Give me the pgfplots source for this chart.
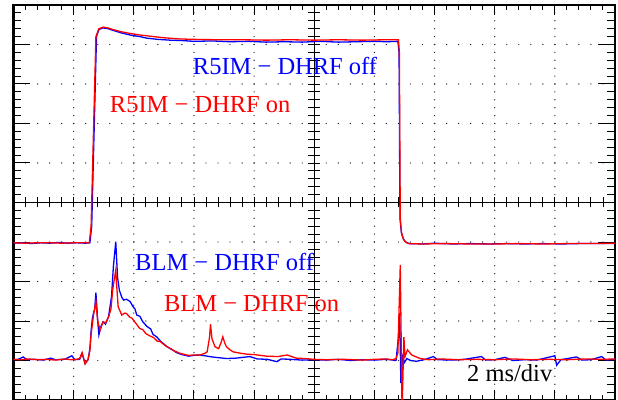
\documentclass[border=0pt]{standalone}
\usepackage{pgfplots}
\pgfplotsset{compat=1.18}
\usepackage{fontspec}
\setmainfont{Liberation Serif}
\definecolor{tblue}{RGB}{0,0,255}
\definecolor{tred}{RGB}{255,0,0}
\pgfplotsset{
  base/.style={scale only axis, width=601.5pt, height=395pt, at={(0,0)}, anchor=south west,
    xticklabels={}, yticklabels={}},
}
\begin{document}
\begin{tikzpicture}
% dotted grid
\begin{axis}[base, xmin=0,xmax=10,ymin=0,ymax=10,
  axis line style={draw=none},
  xtick={1,2,3,4,6,7,8,9}, ytick={1,2,3,4,6,7,8,9},
  major tick length=0pt, tick style={draw=none},
  grid=major,
  major x grid style={black!85, line width=1.4pt, line cap=round, dash pattern=on 0pt off 7.9pt},
  major y grid style={black!85, line width=1.4pt, line cap=round, dash pattern=on 0pt off 12.03pt},
]
\end{axis}
% centre cross: ticks on the vertical centre line
\begin{axis}[base, xmin=-5,xmax=5,ymin=-5,ymax=5,
  axis lines=middle, axis line style={-, line width=1.1pt},
  inner axis line style={-},
  xtick=\empty, ytick={-5,...,5}, minor y tick num=4,
  tick align=center, major tick length=12pt, minor tick length=12pt,
  tick style={black, line width=0.9pt},
]
\end{axis}
% centre cross: ticks on the horizontal centre line
\begin{axis}[base, xmin=-5,xmax=5,ymin=-5,ymax=5,
  axis lines=middle, axis line style={-, line width=1.1pt},
  inner axis line style={-},
  ytick=\empty, xtick={-5,...,5}, minor x tick num=4,
  tick align=center, major tick length=10pt, minor tick length=10pt,
  tick style={black, line width=0.9pt},
]
\end{axis}
% x ticks on borders
\begin{axis}[base, xmin=0,xmax=10,ymin=0,ymax=10,
  axis line style={line width=2pt},
  xtick={0,...,10}, ytick=\empty, minor x tick num=4,
  tick align=inside, major tick length=10pt, minor tick length=5.5pt,
  tick style={black, line width=1pt},
]
\end{axis}
% y ticks and data
\begin{axis}[base, xmin=0,xmax=10,ymin=0,ymax=10,
  axis line style={line width=2pt},
  ytick={0,...,10}, xtick=\empty, minor y tick num=4,
  tick align=inside, major tick length=17pt, minor tick length=8pt,
  tick style={black, line width=1pt},
]
\addplot[tblue, line width=1.3pt] table {
0 3.97
0.15 3.98
0.3 3.96
0.45 3.98
0.6 3.97
0.75 3.99
0.9 3.97
1.05 3.98
1.2 3.97
1.27 3.98
1.30 4.4
1.34 6.8
1.38 9.2
1.42 9.38
1.49 9.42
1.57 9.40
1.65 9.36
1.8 9.29
1.94 9.24
2.1 9.20
2.22 9.16
2.4 9.13
2.6 9.11
2.8 9.10
3.0 9.08
3.3 9.09
3.6 9.07
3.9 9.08
4.2 9.06
4.5 9.07
4.8 9.06
5.1 9.08
5.4 9.06
5.7 9.07
6.0 9.08
6.2 9.07
6.39 9.08
6.41 8.8
6.425 4.6
6.45 4.22
6.48 4.08
6.52 4.00
6.58 3.96
6.8 3.95
7.0 3.97
7.3 3.95
7.6 3.96
7.9 3.95
8.2 3.96
8.5 3.95
8.8 3.96
9.1 3.95
9.4 3.96
9.7 3.96
10 3.96
};
\addplot[tred, line width=1.3pt] table {
0 3.98
0.2 3.97
0.4 3.98
0.6 3.98
0.8 3.97
1.0 3.98
1.2 3.98
1.26 3.98
1.29 4.4
1.33 6.8
1.37 9.2
1.42 9.40
1.49 9.44
1.57 9.42
1.65 9.38
1.8 9.32
1.94 9.28
2.1 9.24
2.22 9.22
2.5 9.17
2.77 9.14
3.0 9.13
3.4 9.12
3.8 9.12
4.2 9.11
4.6 9.12
5.0 9.11
5.4 9.12
5.8 9.11
6.2 9.12
6.40 9.12
6.415 8.8
6.43 4.6
6.45 4.25
6.48 4.08
6.51 4.01
6.56 3.96
6.8 3.95
7.2 3.96
7.6 3.95
8.0 3.95
8.4 3.96
8.8 3.95
9.2 3.96
9.6 3.96
10 3.97
};
\addplot[tblue, line width=1.3pt] table {
0 1.02
0.08 1.03
0.16 1.09
0.22 1.02
0.35 1.03
0.5 1.01
0.62 1.06
0.7 1.02
0.85 1.03
0.97 1.12
1.02 1.02
1.10 1.03
1.14 1.18
1.19 0.93
1.24 1.02
1.27 1.30
1.29 1.75
1.31 2.05
1.33 2.20
1.35 2.30
1.37 2.72
1.40 2.0
1.42 1.65
1.45 1.85
1.49 1.98
1.53 1.92
1.58 2.11
1.63 2.62
1.66 3.37
1.70 4.01
1.73 3.1
1.76 2.78
1.80 2.60
1.83 2.53
1.88 2.55
1.94 2.49
1.98 2.38
2.02 2.30
2.05 2.15
2.10 2.12
2.15 1.98
2.22 1.86
2.28 1.80
2.32 1.66
2.38 1.60
2.45 1.48
2.50 1.42
2.55 1.35
2.63 1.28
2.71 1.20
2.80 1.15
2.91 1.11
3.0 1.13
3.10 1.14
3.3 1.09
3.54 1.05
3.7 1.06
3.93 1.10
4.05 1.04
4.22 1.03
4.38 0.97
4.45 1.04
4.6 1.03
4.8 1.01
5.0 1.02
5.2 1.01
5.4 1.03
5.6 1.00
5.8 1.02
6.0 1.01
6.2 1.03
6.36 1.0
6.40 1.6
6.42 2.2
6.44 0.43
6.47 1.09
6.50 0.95
6.54 1.05
6.6 1.00
6.7 0.98
6.85 1.03
6.98 1.10
7.05 1.02
7.3 1.01
7.5 1.03
7.78 1.10
7.85 1.01
8.0 1.02
8.17 1.08
8.3 1.00
8.5 1.02
8.7 1.01
9.00 1.12
9.03 0.88
9.1 1.02
9.36 1.09
9.45 1.01
9.6 1.02
9.78 1.10
9.85 1.01
10 1.03
};
\addplot[tred, line width=1.3pt] table {
0 1.03
0.12 1.02
0.25 1.04
0.4 1.02
0.55 1.03
0.7 1.01
0.85 1.04
0.95 1.02
1.05 1.03
1.10 1.05
1.14 1.20
1.19 0.91
1.24 1.03
1.27 1.25
1.29 1.65
1.33 2.15
1.37 2.49
1.40 2.0
1.44 1.77
1.47 1.90
1.49 1.98
1.53 1.95
1.58 2.10
1.62 2.30
1.65 2.8
1.70 3.29
1.72 2.8
1.74 2.36
1.80 2.15
1.85 2.20
1.88 2.19
1.93 2.10
1.97 2.07
2.03 1.95
2.10 1.81
2.15 1.78
2.20 1.68
2.27 1.62
2.33 1.58
2.39 1.49
2.44 1.48
2.52 1.38
2.60 1.31
2.68 1.24
2.77 1.18
2.85 1.15
2.91 1.13
3.0 1.14
3.10 1.14
3.18 1.18
3.22 1.22
3.26 1.60
3.275 1.92
3.30 1.55
3.35 1.35
3.41 1.30
3.45 1.45
3.48 1.60
3.51 1.45
3.54 1.35
3.60 1.27
3.65 1.22
3.75 1.19
3.88 1.16
4.0 1.15
4.21 1.11
4.4 1.10
4.55 1.14
4.7 1.06
4.85 1.05
4.98 1.03
5.2 1.02
5.5 1.03
5.8 1.01
6.0 1.03
6.2 1.04
6.3 1.02
6.36 1.05
6.39 1.19
6.43 3.42
6.46 -0.3
6.49 1.59
6.51 1.10
6.55 1.27
6.62 1.14
6.76 1.05
6.9 1.02
7.1 1.04
7.4 1.02
7.7 1.03
8.0 1.02
8.3 1.04
8.6 1.02
8.9 1.03
9.2 1.02
9.5 1.04
9.8 1.03
10 1.04
};
\node[tblue, anchor=base west, font=\fontsize{24.5}{29}\selectfont, inner sep=0pt] at (axis cs:2.98,8.25) {R5IM − DHRF off};
\node[tred, anchor=base west, font=\fontsize{24.5}{29}\selectfont, inner sep=0pt] at (axis cs:1.60,7.27) {R5IM − DHRF on};
\node[tblue, anchor=base west, font=\fontsize{24.5}{29}\selectfont, inner sep=0pt] at (axis cs:2.02,3.27) {BLM − DHRF off};
\node[tred, anchor=base west, font=\fontsize{24.5}{29}\selectfont, inner sep=0pt] at (axis cs:2.50,2.25) {BLM − DHRF on};
\node[black, anchor=base west, font=\fontsize{24.5}{29}\selectfont, inner sep=0pt] at (axis cs:7.54,0.46) {2 ms/div};
\end{axis}
\pgfresetboundingbox
\path (-13.5pt,1pt) rectangle (604.5pt,400pt);
\end{tikzpicture}
\end{document}
